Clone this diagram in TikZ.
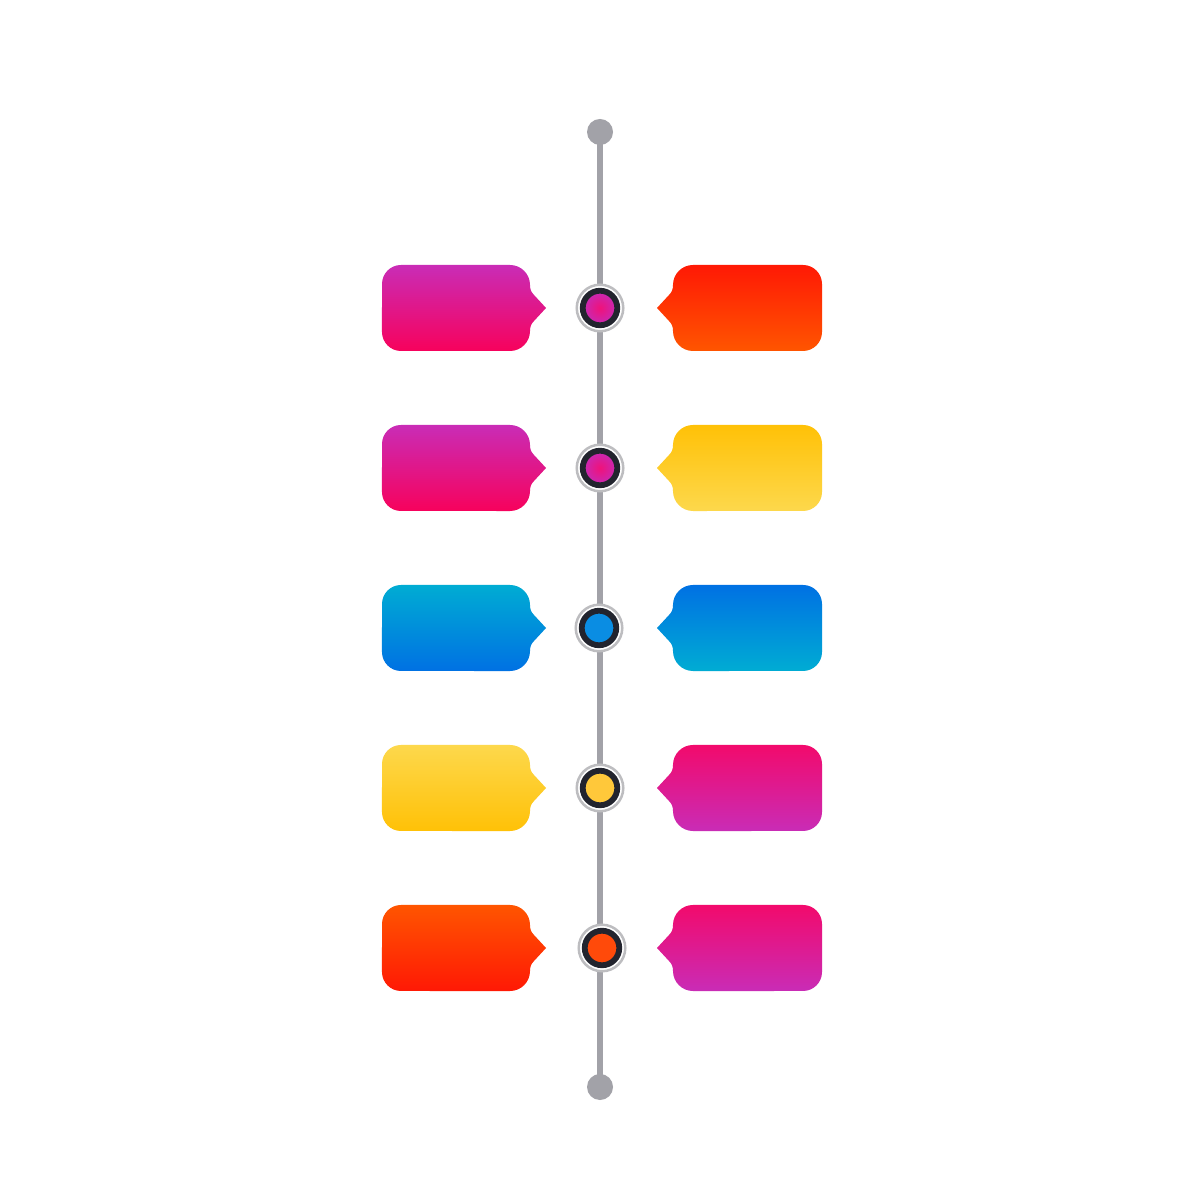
\documentclass[tikz,border=0pt]{standalone}
\definecolor{spinegray}{HTML}{A2A2A8}
\definecolor{halogray}{HTML}{BDBDC0}
\definecolor{ringdark}{HTML}{22242E}
\definecolor{magc}{HTML}{C92CB6}
\definecolor{pinkc}{HTML}{F7025C}
\definecolor{redc}{HTML}{FF1905}
\definecolor{orangec}{HTML}{FF5500}
\definecolor{yellowa}{HTML}{FFC107}
\definecolor{yellowb}{HTML}{FDD84C}
\definecolor{cyanc}{HTML}{00ACD3}
\definecolor{bluec}{HTML}{0071E3}
\definecolor{pinkd}{HTML}{F20A6C}
\definecolor{dotblue}{HTML}{0A8DE3}
\definecolor{dotyellow}{HTML}{FFC83A}
\definecolor{dotorange}{HTML}{FF4A0A}
\definecolor{dotpink}{HTML}{F0127A}
\definecolor{dotmag}{HTML}{C52AB8}
% left box with pointer to the right; #1 = centre y, #2 top colour, #3 bottom colour
\newcommand\tlLeftBox[3]{%
  \shade[top color=#2, bottom color=#3]
    (401,#1+43) -- (510,#1+43) arc[start angle=90,end angle=0,radius=0.20cm]
    .. controls (530,#1+19) and (531,#1+16) .. (534,#1+13)
    -- (546,#1) -- (534,#1-13)
    .. controls (531,#1-16) and (530,#1-19) .. (530,#1-23)
    arc[start angle=0,end angle=-90,radius=0.20cm]
    -- (401,#1-43) arc[start angle=-90,end angle=-180,radius=0.19cm]
    -- (382,#1+24) arc[start angle=180,end angle=90,radius=0.19cm] -- cycle;}
% right box with pointer to the left
\newcommand\tlRightBox[3]{%
  \shade[top color=#2, bottom color=#3]
    (803,#1+43) -- (693,#1+43) arc[start angle=90,end angle=180,radius=0.20cm]
    .. controls (673,#1+19) and (672,#1+16) .. (669,#1+13)
    -- (657,#1) -- (669,#1-13)
    .. controls (672,#1-16) and (673,#1-19) .. (673,#1-23)
    arc[start angle=180,end angle=270,radius=0.20cm]
    -- (803,#1-43) arc[start angle=-90,end angle=0,radius=0.19cm]
    -- (822,#1+24) arc[start angle=0,end angle=90,radius=0.19cm] -- cycle;}
\begin{document}
\begin{tikzpicture}[x=0.01cm,y=0.01cm,
  enddot/.style={circle,fill=spinegray,inner sep=0pt,minimum size=0.26cm},
  spine/.style={draw=spinegray,line width=0.06cm},
  halo/.style={circle,draw=halogray,line width=0.025cm,fill=white,inner sep=0pt,minimum size=0.465cm},
  dot/.style={circle,draw=ringdark,line width=0.058cm,inner sep=0pt,minimum size=0.345cm},
  magdot/.style={dot,shade,inner color=dotpink,outer color=dotmag}]
\useasboundingbox (0,0) rectangle (1200,1200);
\fill[white] (0,0) rectangle (1200,1200);
% spine
\node[enddot] (top) at (600,1068) {};
\node[enddot] (bot) at (600,113) {};
\draw[spine] (top.center) -- (bot.center);
% boxes
\tlLeftBox{892}{magc}{pinkc}
\tlRightBox{892}{redc}{orangec}
\tlLeftBox{732}{magc}{pinkc}
\tlRightBox{732}{yellowa}{yellowb}
\tlLeftBox{572}{cyanc}{bluec}
\tlRightBox{572}{bluec}{cyanc}
\tlLeftBox{412}{yellowb}{yellowa}
\tlRightBox{412}{pinkd}{magc}
\tlLeftBox{252}{orangec}{redc}
\tlRightBox{252}{pinkd}{magc}
% milestones
\node[halo] (h1) at (600,892) {};
\node[magdot] (d1) at (600,892) {};
\node[halo] (h2) at (600,732) {};
\node[magdot] (d2) at (600,732) {};
\node[halo] (h3) at (599,572) {};
\node[dot,fill=dotblue] (d3) at (599,572) {};
\node[halo] (h4) at (600,412) {};
\node[dot,fill=dotyellow] (d4) at (600,412) {};
\node[halo] (h5) at (602,252) {};
\node[dot,fill=dotorange] (d5) at (602,252) {};
\end{tikzpicture}
\end{document}
